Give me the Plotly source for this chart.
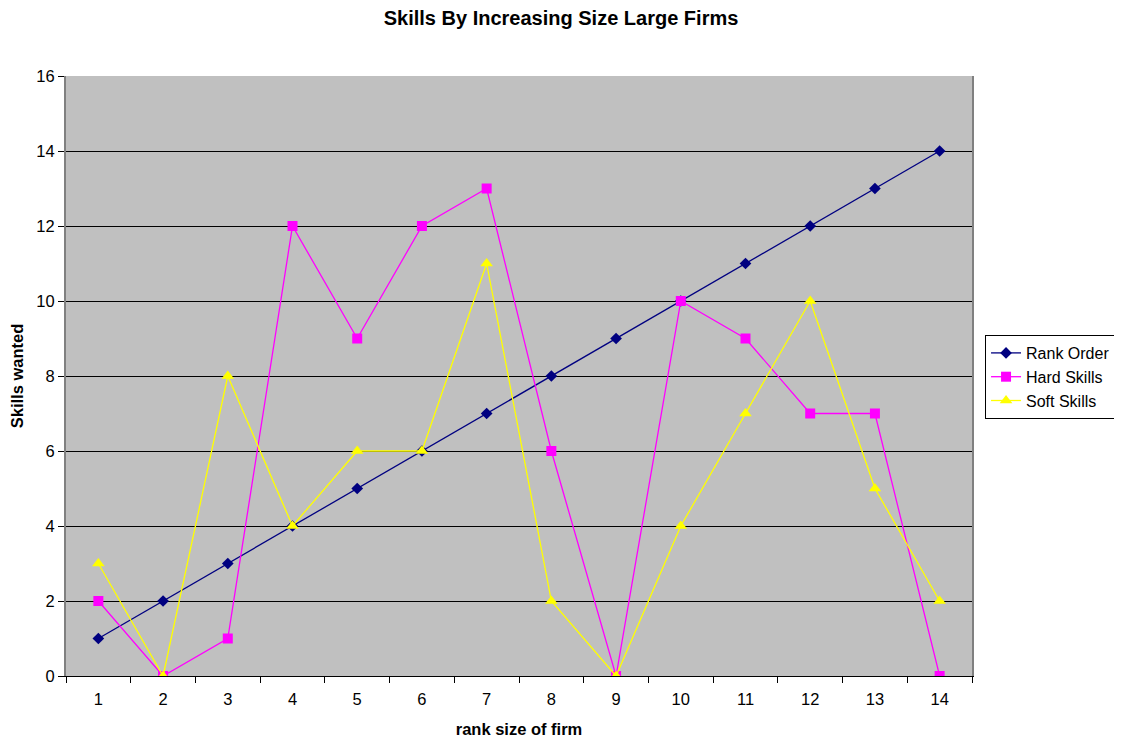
import plotly.graph_objects as go

ranks = list(range(1, 15))
rank_order = [1, 2, 3, 4, 5, 6, 7, 8, 9, 10, 11, 12, 13, 14]
hard_skills = [2, 0, 1, 12, 9, 12, 13, 6, 0, 10, 9, 7, 7, 0]
soft_skills = [3, 0, 8, 4, 6, 6, 11, 2, 0, 4, 7, 10, 5, 2]

FONT = "Liberation Sans, Arial, sans-serif"
FS = 16.5

fig = go.Figure()
fig.add_trace(go.Scatter(x=ranks, y=rank_order, name="Rank Order", mode="lines+markers",
                         line=dict(color="#000080", width=1.3),
                         marker=dict(symbol="diamond", size=9, color="#000080")))
fig.add_trace(go.Scatter(x=ranks, y=hard_skills, name="Hard Skills", mode="lines+markers",
                         line=dict(color="#FF00FF", width=1.3),
                         marker=dict(symbol="square", size=10, color="#FF00FF")))
fig.add_trace(go.Scatter(x=ranks, y=soft_skills, name="Soft Skills", mode="lines+markers",
                         line=dict(color="#FFFF00", width=1.3),
                         marker=dict(symbol="triangle-up", size=11, color="#FFFF00")))

fig.update_layout(
    width=1122, height=742,
    margin=dict(l=58, r=158, t=68, b=74),
    paper_bgcolor="white", plot_bgcolor="#C0C0C0",
    font=dict(family=FONT, size=FS, color="black"),
    title=dict(text="<b>Skills By Increasing Size Large Firms</b>", x=0.4929, xanchor="center",
               y=0.9865, yanchor="middle", font=dict(size=20)),
    showlegend=True,
    legend=dict(xref="container", yref="container", x=0.8708, xanchor="left",
                y=0.5593, yanchor="top",
                bgcolor="white", bordercolor="black", borderwidth=1,
                font=dict(size=16), tracegroupgap=0, itemwidth=30),
)
fig.update_xaxes(
    range=[0.5, 14.5], tickvals=ranks, ticktext=[str(r) for r in ranks],
    ticks="", showgrid=False, zeroline=False, automargin=False,
    ticklabelstandoff=8,
    showline=True, linecolor="black", linewidth=1, mirror=False,
    tickfont=dict(size=FS),
    minor=dict(tickvals=[r + 0.5 for r in range(0, 15)], ticks="outside", ticklen=6,
               tickcolor="black", showgrid=False),
    title=dict(text="<b>rank size of firm</b>", font=dict(size=FS), standoff=16),
)
fig.update_yaxes(
    range=[0, 16], dtick=2, ticks="outside", ticklen=6, tickcolor="black",
    showgrid=True, gridcolor="black", gridwidth=1, zeroline=False, automargin=False,
    showline=True, linecolor="#808080", linewidth=2, mirror=True,
    tickfont=dict(size=FS),
    title=dict(text="<b>Skills wanted</b>", font=dict(size=FS), standoff=14),
)
fig.write_html("out.html")
